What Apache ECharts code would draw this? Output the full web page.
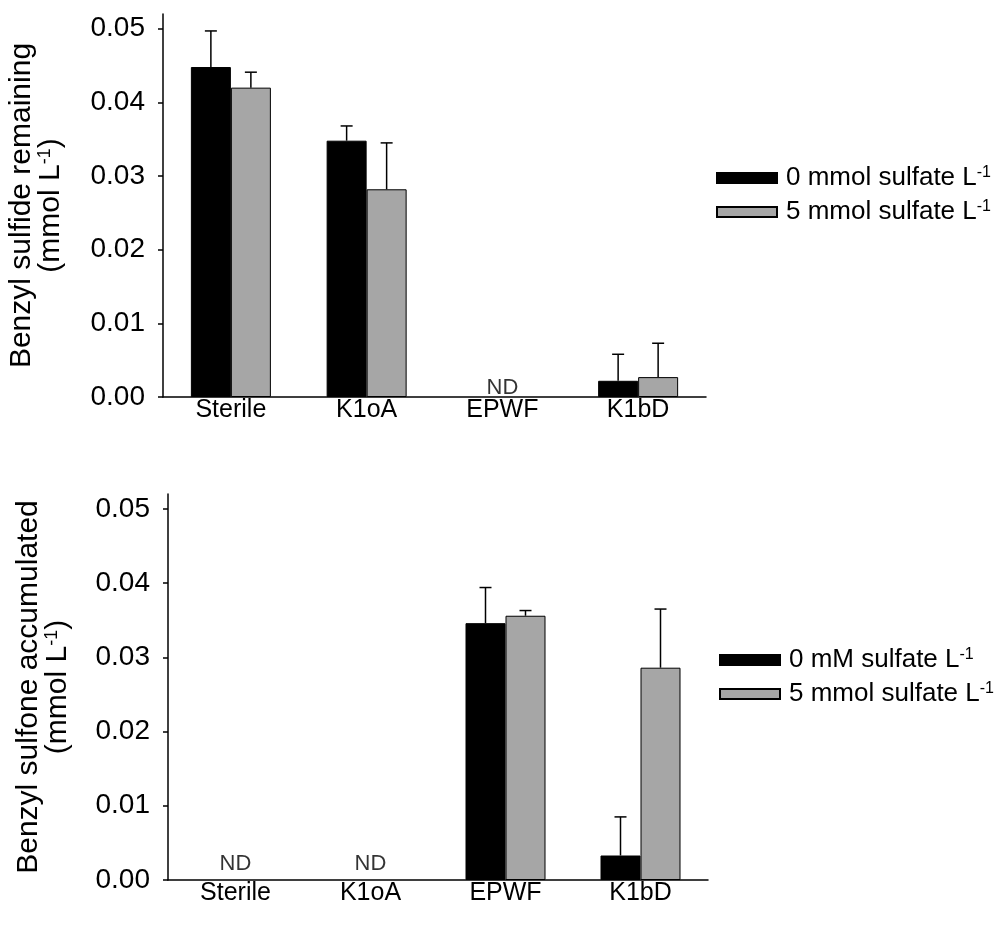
<!DOCTYPE html>
<html><head><meta charset="utf-8">
<script src="https://cdn.jsdelivr.net/npm/echarts@6/dist/echarts.min.js"></script>
<style>html,body{margin:0;padding:0;background:#fff}#c{width:999px;height:925px}</style>
</head><body><div id="c"></div>
<script>
// ---- data ----
const categories = ['Sterile', 'K1oA', 'EPWF', 'K1bD'];
const yTicks = [0, 0.01, 0.02, 0.03, 0.04, 0.05];

// top panel: benzyl sulfide remaining
const topNames = ['0 mmol sulfate L-1', '5 mmol sulfate L-1'];
const top0 = [0.0448, 0.0348, null, 0.0022];
const top0Err = [0.0049, 0.0020, null, 0.0036];
const top5 = [0.0420, 0.0282, null, 0.0027];
const top5Err = [0.0021, 0.0063, null, 0.0046];
const topND = ['EPWF'];

// bottom panel: benzyl sulfone accumulated
const botNames = ['0 mM sulfate L-1', '5 mmol sulfate L-1'];
const bot0 = [null, null, 0.0346, 0.0033];
const bot0Err = [null, null, 0.0048, 0.0052];
const bot5 = [null, null, 0.0356, 0.0286];
const bot5Err = [null, null, 0.0007, 0.0079];
const botND = ['Sterile', 'K1oA'];

// ---- styling ----
const FONT = '"Liberation Sans", Arial, sans-serif';
const FS_TICK = 28, FS_CAT = 25, FS_LEG = 26, FS_TITLE = 30, FS_ND = 22;
const BAR_W = 40;
const GREY = '#a6a6a6';

function supRich(size, lh) {
  return {
    t: {fontSize: size, fontFamily: FONT, color: '#000', lineHeight: lh},
    sup: {fontSize: Math.round(size * 0.6), fontFamily: FONT, color: '#000',
      lineHeight: Math.round(size * 0.6), verticalAlign: 'top'}
  };
}
function supText(s) {
  return s.split('\n').map(line => {
    const i = line.indexOf('L-1');
    if (i < 0) return '{t|' + line + '}';
    return '{t|' + line.slice(0, i + 1) + '}{sup|-1}' + (line.slice(i + 3) ? '{t|' + line.slice(i + 3) + '}' : '');
  }).join('\n');
}

function errSeries(gridIdx, means, errs, offset) {
  const data = [];
  means.forEach((m, i) => { if (m != null && errs[i] != null) data.push([i, m, errs[i]]); });
  return {
    type: 'custom', xAxisIndex: gridIdx, yAxisIndex: gridIdx, z: 5,
    encode: {x: 0, y: 1},
    data: data,
    renderItem: function (params, api) {
      const i = api.value(0), m = api.value(1), e = api.value(2);
      const p0 = api.coord([i, m]);
      const p1 = api.coord([i, m + e]);
      const x = p0[0] + offset;
      const st = {stroke: '#000', lineWidth: 1.5};
      return {type: 'group', children: [
        {type: 'line', shape: {x1: x, y1: p0[1], x2: x, y2: p1[1]}, style: st},
        {type: 'line', shape: {x1: x - 6, y1: p1[1], x2: x + 6, y2: p1[1]}, style: st}
      ]};
    }
  };
}

function ndSeries(gridIdx, cats, dist) {
  return {
    type: 'scatter', xAxisIndex: gridIdx, yAxisIndex: gridIdx, z: 6,
    symbolSize: 0.1, itemStyle: {color: 'rgba(0,0,0,0)'}, silent: true,
    data: cats.map(c => [c, 0]),
    label: {show: true, formatter: 'ND', position: 'top', distance: dist, color: '#000', fontSize: FS_ND, fontFamily: FONT}
  };
}

function xAxis(gridIdx) {
  return {
    type: 'category', gridIndex: gridIdx, data: categories, boundaryGap: true,
    axisLine: {lineStyle: {color: '#000', width: 1.5}},
    axisTick: {alignWithLabel: true, length: 5, lineStyle: {color: '#000', width: 1.5}},
    axisLabel: {color: '#000', fontSize: FS_CAT, fontFamily: FONT, margin: 1}
  };
}
function yAxis(gridIdx, name, gap) {
  return {
    type: 'value', gridIndex: gridIdx, min: 0, max: 0.052,
    name: supText(name), nameLocation: 'middle', nameGap: gap,
    nameTextStyle: {rich: supRich(FS_TITLE, 29), align: 'center'},
    splitLine: {show: false},
    axisLine: {show: true, lineStyle: {color: '#000', width: 1.5}},
    axisTick: {show: true, length: 5, customValues: yTicks, lineStyle: {color: '#000', width: 1.5}},
    axisLabel: {color: '#000', fontSize: FS_TICK, fontFamily: FONT, margin: 18, customValues: yTicks,
      formatter: v => v.toFixed(2)}
  };
}
function barSeries(gridIdx, name, data, color) {
  return {
    type: 'bar', name: name, xAxisIndex: gridIdx, yAxisIndex: gridIdx,
    data: data, barWidth: BAR_W, barGap: '0%',
    itemStyle: {color: color, borderColor: '#000', borderWidth: 1}
  };
}
function legend(names, left, top) {
  return {
    data: names, orient: 'vertical', left: left, top: top,
    icon: 'rect', itemWidth: 60, itemHeight: 10, itemGap: 8,
    formatter: n => supText(n),
    textStyle: {rich: supRich(FS_LEG, 26), padding: [0, 0, 0, 4]}
  };
}

const option = {
  animation: false,
  textStyle: {fontFamily: FONT},
  grid: [
    {left: 163, top: 14, width: 543, height: 383, containLabel: false, outerBoundsMode: 'none'},
    {left: 168, top: 494, width: 540, height: 386, containLabel: false, outerBoundsMode: 'none'}
  ],
  xAxis: [xAxis(0), xAxis(1)],
  yAxis: [
    yAxis(0, 'Benzyl sulfide remaining\n(mmol L-1)', 98),
    yAxis(1, 'Benzyl sulfone accumulated\n(mmol L-1)', 96)
  ],
  legend: [legend(topNames, 711, 160), legend(botNames, 714, 642)],
  series: [
    barSeries(0, topNames[0], top0, '#000'),
    barSeries(0, topNames[1], top5, GREY),
    errSeries(0, top0, top0Err, -BAR_W / 2),
    errSeries(0, top5, top5Err, BAR_W / 2),
    ndSeries(0, topND, -2),
    barSeries(1, botNames[0], bot0, '#000'),
    barSeries(1, botNames[1], bot5, GREY),
    errSeries(1, bot0, bot0Err, -BAR_W / 2),
    errSeries(1, bot5, bot5Err, BAR_W / 2),
    ndSeries(1, botND, 5)
  ]
};
const chart = echarts.init(document.getElementById('c'), null, {renderer: 'canvas'});
chart.setOption(option);
</script>
</body></html>
